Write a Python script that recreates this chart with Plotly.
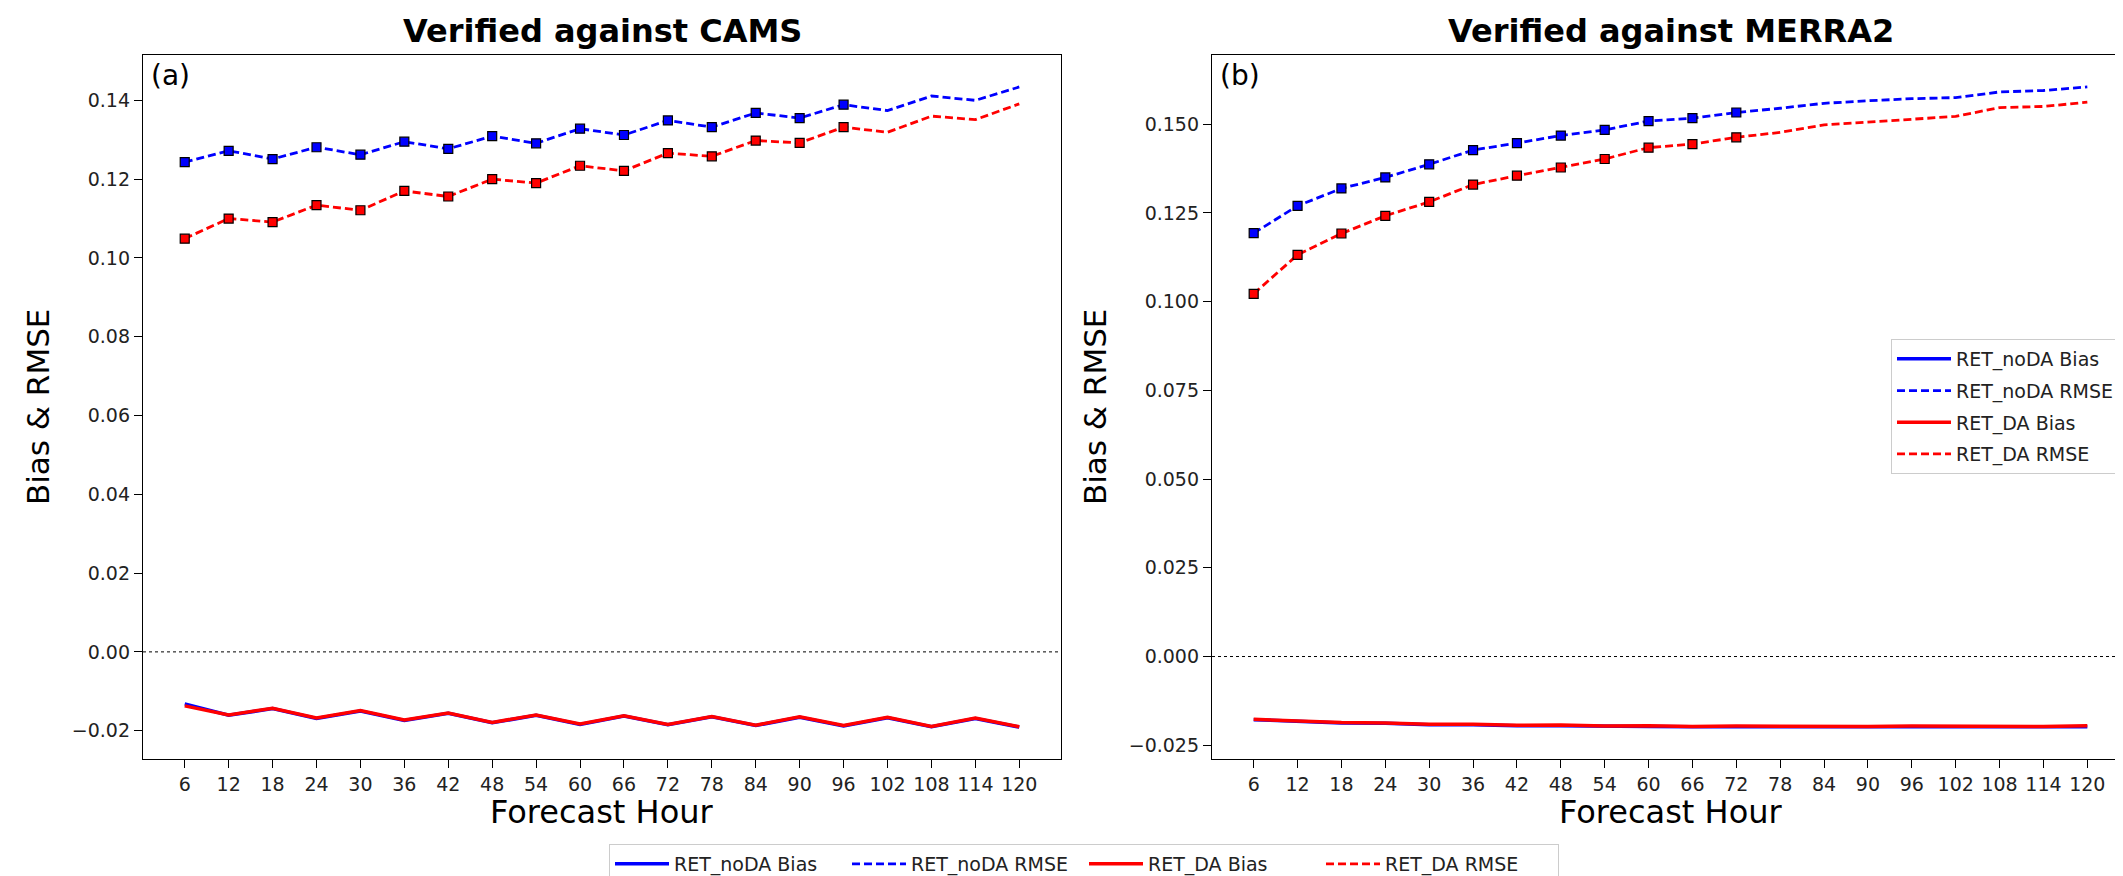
import plotly.graph_objects as go

# ---------------- data ----------------
hours = [6, 12, 18, 24, 30, 36, 42, 48, 54, 60, 66, 72, 78, 84, 90, 96, 102, 108, 114, 120]

cams_noda_bias = [-0.0132, -0.0161, -0.0144, -0.0169, -0.0150, -0.0174, -0.0156, -0.0180, -0.0161, -0.0184,
                  -0.0163, -0.0185, -0.0165, -0.0187, -0.0166, -0.0188, -0.0167, -0.0190, -0.0169, -0.0191]
cams_noda_rmse = [0.1243, 0.1272, 0.1251, 0.1281, 0.1262, 0.1295, 0.1277, 0.1309, 0.1291, 0.1328,
                  0.1312, 0.1349, 0.1332, 0.1368, 0.1355, 0.1389, 0.1374, 0.1411, 0.1400, 0.1434]
cams_da_bias = [-0.0137, -0.0160, -0.0143, -0.0168, -0.0149, -0.0173, -0.0155, -0.0179, -0.0160, -0.0183,
                -0.0162, -0.0184, -0.0164, -0.0186, -0.0165, -0.0187, -0.0166, -0.0189, -0.0168, -0.0190]
cams_da_rmse = [0.1049, 0.1100, 0.1091, 0.1134, 0.1121, 0.1170, 0.1156, 0.1200, 0.1190, 0.1234,
                0.1221, 0.1266, 0.1258, 0.1298, 0.1292, 0.1332, 0.1319, 0.1360, 0.1351, 0.1391]

merra_noda_bias = [-0.0178, -0.0183, -0.0187, -0.0188, -0.0192, -0.0192, -0.0195, -0.0195, -0.0197, -0.0197,
                   -0.0198, -0.0198, -0.0199, -0.0198, -0.0199, -0.0198, -0.0199, -0.0198, -0.0199, -0.0198]
merra_noda_rmse = [0.1193, 0.1270, 0.1319, 0.1350, 0.1387, 0.1427, 0.1447, 0.1468, 0.1484, 0.1509,
                   0.1517, 0.1533, 0.1545, 0.1559, 0.1566, 0.1572, 0.1575, 0.1591, 0.1595, 0.1605]
merra_da_bias = [-0.0177, -0.0182, -0.0186, -0.0187, -0.0191, -0.0191, -0.0194, -0.0193, -0.0196, -0.0195,
                 -0.0197, -0.0196, -0.0197, -0.0196, -0.0197, -0.0196, -0.0197, -0.0196, -0.0197, -0.0195]
merra_da_rmse = [0.1022, 0.1132, 0.1192, 0.1242, 0.1281, 0.1330, 0.1355, 0.1378, 0.1402, 0.1434,
                 0.1444, 0.1463, 0.1477, 0.1498, 0.1505, 0.1514, 0.1522, 0.1547, 0.1550, 0.1562]

cams_marker_count = 16   # squares drawn on hours 6..96
merra_marker_count = 12  # squares drawn on hours 6..72

series_names = ["RET_noDA Bias", "RET_noDA RMSE", "RET_DA Bias", "RET_DA RMSE"]
left_ticks = [-0.02, 0.00, 0.02, 0.04, 0.06, 0.08, 0.10, 0.12, 0.14]
right_ticks = [-0.025, 0.000, 0.025, 0.050, 0.075, 0.100, 0.125, 0.150]

# ---------------- style ----------------
W, H = 2123, 876
FONT = "DejaVu Sans"
BLUE, RED = "#0000ff", "#ff0000"
TICK = 19


def px(x):
    return x / W


def py(y):
    return 1 - y / H


def auto_range(vals, m=0.05):
    lo, hi = min(vals), max(vals)
    d = hi - lo
    return [lo - m * d, hi + m * d]


fig = go.Figure()

panels = [
    dict(xa="x", ya="y", legend="legend", grp=False,
         data=[cams_noda_bias, cams_noda_rmse, cams_da_bias, cams_da_rmse], nm=cams_marker_count),
    dict(xa="x2", ya="y2", legend="legend2", grp=True,
         data=[merra_noda_bias, merra_noda_rmse, merra_da_bias, merra_da_rmse], nm=merra_marker_count),
]

colors = [BLUE, BLUE, RED, RED]
for p in panels:
    for i, (name, vals) in enumerate(zip(series_names, p["data"])):
        is_rmse = "RMSE" in name
        kw = dict(legendgroup=f"g{i}") if p["grp"] else {}
        fig.add_trace(go.Scatter(
            x=hours, y=vals, mode="lines", name=name,
            line=dict(color=colors[i], width=2.8 if is_rmse else 3.5,
                      dash="8px,4px" if is_rmse else "solid"),
            xaxis=p["xa"], yaxis=p["ya"], legend=p["legend"], showlegend=True, **kw,
        ))
        if is_rmse:
            n = p["nm"]
            fig.add_trace(go.Scatter(
                x=hours[:n], y=vals[:n], mode="markers", showlegend=False,
                marker=dict(symbol="square", size=9, color=colors[i],
                            line=dict(color="black", width=1.2)),
                xaxis=p["xa"], yaxis=p["ya"], hoverinfo="skip",
            ))

xr = auto_range(hours)
yr_left = auto_range(cams_noda_bias + cams_noda_rmse + cams_da_bias + cams_da_rmse)
yr_right = auto_range(merra_noda_bias + merra_noda_rmse + merra_da_bias + merra_da_rmse)

axis_common = dict(showline=True, linecolor="black", linewidth=1.3, mirror=True,
                   ticks="outside", ticklen=8, tickwidth=1.3, tickcolor="black",
                   showgrid=False, zeroline=False,
                   tickfont=dict(family=FONT, size=TICK, color="#222222"))

L_dom = [px(135), px(1053)]
R_dom = [px(1204), px(2121)]
Y_dom = [py(752), py(47)]

fig.update_layout(
    width=W, height=H,
    margin=dict(l=0, r=0, t=0, b=0),
    paper_bgcolor="white", plot_bgcolor="white",
    font=dict(family=FONT, color="black"),
    xaxis=dict(domain=L_dom, range=xr, tickvals=hours, anchor="y", **axis_common),
    yaxis=dict(domain=Y_dom, range=yr_left, tickvals=left_ticks, tickformat=".2f", anchor="x", **axis_common),
    xaxis2=dict(domain=R_dom, range=xr, tickvals=hours, anchor="y2", **axis_common),
    yaxis2=dict(domain=Y_dom, range=yr_right, tickvals=right_ticks, tickformat=".3f", anchor="x2", **axis_common),
    legend=dict(orientation="h", x=px(601), xanchor="left", y=py(857), yanchor="middle",
                bordercolor="#cccccc", borderwidth=1, bgcolor="white",
                entrywidth=168, entrywidthmode="pixels",
                font=dict(family=FONT, size=19, color="#222222"), itemwidth=54),
    legend2=dict(orientation="v", x=px(2111), xanchor="right", y=py(398.5), yanchor="middle",
                 bordercolor="#cccccc", borderwidth=1, bgcolor="white", tracegroupgap=4,
                 font=dict(family=FONT, size=19, color="#222222"), itemwidth=54),
    showlegend=True,
)

# dotted zero lines
for xa, ya in (("x", "y"), ("x2", "y2")):
    fig.add_shape(type="line", xref=f"{xa} domain", yref=ya, x0=0, x1=1, y0=0, y1=0,
                  line=dict(color="black", width=1, dash="dot"))

# titles, axis titles and panel labels
ann = []
for cx, title in ((594, "Verified against CAMS"), (1662.5, "Verified against MERRA2")):
    ann.append(dict(text=f"<b>{title}</b>", x=px(cx), y=py(23), xanchor="center", yanchor="middle",
                    font=dict(family=FONT, size=32, color="black")))
    ann.append(dict(text="Forecast Hour", x=px(cx), y=py(805), xanchor="center", yanchor="middle",
                    font=dict(family=FONT, size=32, color="black")))
for cx in (30, 1087):
    ann.append(dict(text="Bias & RMSE", x=px(cx), y=py(399.5), xanchor="center", yanchor="middle",
                    textangle=-90, font=dict(family=FONT, size=31, color="black")))
for cx, lab in ((162, "(a)"), (1232, "(b)")):
    ann.append(dict(text=lab, x=px(cx), y=py(68), xanchor="center", yanchor="middle",
                    font=dict(family=FONT, size=28, color="black")))
for a in ann:
    a.update(xref="paper", yref="paper", showarrow=False)
fig.update_layout(annotations=ann)

fig.write_html("out.html")
